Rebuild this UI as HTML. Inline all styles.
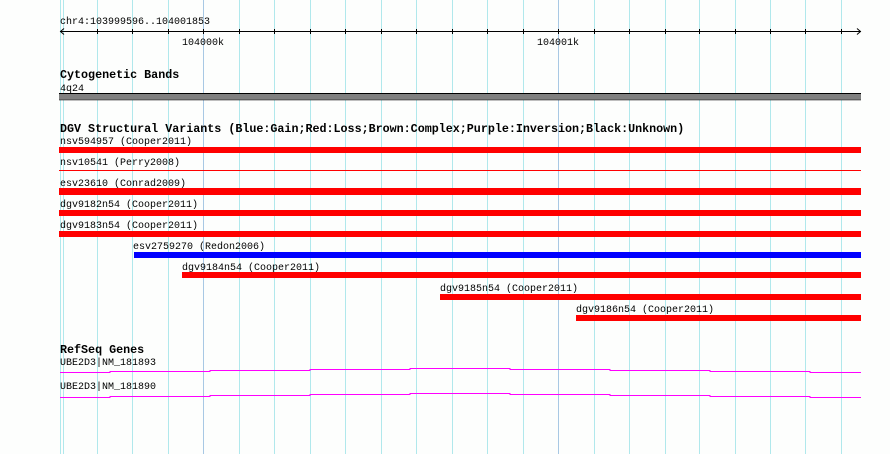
<!DOCTYPE html>
<html><head><meta charset="utf-8"><style>
html,body{margin:0;padding:0;background:#fff;width:890px;height:454px;overflow:hidden}
svg{display:block}
text{font-family:"Liberation Mono",monospace;font-size:10px;fill:#000}
.b{font-weight:bold;font-size:11.7px}
</style></head><body>
<svg width="890" height="454" viewBox="0 0 890 454" xmlns="http://www.w3.org/2000/svg">
<rect width="890" height="454" fill="#fdfefd"/>
<g stroke="#b0e8ec" stroke-width="1">
<line x1="60.5" y1="0" x2="60.5" y2="454"/>
<line x1="63.5" y1="0" x2="63.5" y2="454"/>
<line x1="97.5" y1="0" x2="97.5" y2="454"/>
<line x1="132.5" y1="0" x2="132.5" y2="454"/>
<line x1="168.5" y1="0" x2="168.5" y2="454"/>
<line x1="239.5" y1="0" x2="239.5" y2="454"/>
<line x1="274.5" y1="0" x2="274.5" y2="454"/>
<line x1="310.5" y1="0" x2="310.5" y2="454"/>
<line x1="345.5" y1="0" x2="345.5" y2="454"/>
<line x1="381.5" y1="0" x2="381.5" y2="454"/>
<line x1="416.5" y1="0" x2="416.5" y2="454"/>
<line x1="452.5" y1="0" x2="452.5" y2="454"/>
<line x1="487.5" y1="0" x2="487.5" y2="454"/>
<line x1="523.5" y1="0" x2="523.5" y2="454"/>
<line x1="594.5" y1="0" x2="594.5" y2="454"/>
<line x1="629.5" y1="0" x2="629.5" y2="454"/>
<line x1="665.5" y1="0" x2="665.5" y2="454"/>
<line x1="699.5" y1="0" x2="699.5" y2="454"/>
<line x1="735.5" y1="0" x2="735.5" y2="454"/>
<line x1="770.5" y1="0" x2="770.5" y2="454"/>
<line x1="805.5" y1="0" x2="805.5" y2="454"/>
<line x1="841.5" y1="0" x2="841.5" y2="454"/>
</g>
<g stroke="#a8c8e4" stroke-width="1">
<line x1="203.5" y1="0" x2="203.5" y2="454"/>
<line x1="558.5" y1="0" x2="558.5" y2="454"/>
</g>
<text x="60" y="24">chr4:103999596..104001853</text>
<line x1="60" y1="31.5" x2="861" y2="31.5" stroke="#000" stroke-width="1"/>
<polyline points="64,28.5 60.5,31.5 64,34.5" fill="none" stroke="#000"/>
<polyline points="857,28.5 860.5,31.5 857,34.5" fill="none" stroke="#000"/>
<g stroke="#000">
<line x1="97.5" y1="29" x2="97.5" y2="34"/><line x1="132.5" y1="29" x2="132.5" y2="34"/><line x1="168.5" y1="29" x2="168.5" y2="34"/><line x1="203.5" y1="29" x2="203.5" y2="34"/><line x1="239.5" y1="29" x2="239.5" y2="34"/><line x1="274.5" y1="29" x2="274.5" y2="34"/><line x1="310.5" y1="29" x2="310.5" y2="34"/><line x1="345.5" y1="29" x2="345.5" y2="34"/><line x1="381.5" y1="29" x2="381.5" y2="34"/><line x1="416.5" y1="29" x2="416.5" y2="34"/><line x1="452.5" y1="29" x2="452.5" y2="34"/><line x1="487.5" y1="29" x2="487.5" y2="34"/><line x1="523.5" y1="29" x2="523.5" y2="34"/><line x1="558.5" y1="29" x2="558.5" y2="34"/><line x1="594.5" y1="29" x2="594.5" y2="34"/><line x1="629.5" y1="29" x2="629.5" y2="34"/><line x1="665.5" y1="29" x2="665.5" y2="34"/><line x1="699.5" y1="29" x2="699.5" y2="34"/><line x1="735.5" y1="29" x2="735.5" y2="34"/><line x1="770.5" y1="29" x2="770.5" y2="34"/><line x1="805.5" y1="29" x2="805.5" y2="34"/><line x1="841.5" y1="29" x2="841.5" y2="34"/>
</g>
<text x="182" y="45">104000k</text>
<text x="537" y="45">104001k</text>

<text class="b" x="60" y="78">Cytogenetic Bands</text>
<text x="60" y="91">4q24</text>
<rect x="59" y="93" width="802" height="7" fill="#808080"/>
<line x1="59" y1="93.5" x2="861" y2="93.5" stroke="#000"/>
<line x1="59" y1="100" x2="861" y2="100" stroke="#000" stroke-width="0.6"/>

<text class="b" x="60" y="132">DGV Structural Variants (Blue:Gain;Red:Loss;Brown:Complex;Purple:Inversion;Black:Unknown)</text>
<text x="60" y="144">nsv594957 (Cooper2011)</text>
<rect x="59" y="147" width="802" height="6" fill="#ff0000"/>
<text x="60" y="165">nsv10541 (Perry2008)</text>
<rect x="59" y="170" width="802" height="1" fill="#ff0000"/>
<text x="60" y="186">esv23610 (Conrad2009)</text>
<rect x="59" y="188" width="802" height="7" fill="#ff0000"/>
<text x="60" y="207">dgv9182n54 (Cooper2011)</text>
<rect x="59" y="210" width="802" height="6" fill="#ff0000"/>
<text x="60" y="228">dgv9183n54 (Cooper2011)</text>
<rect x="59" y="231" width="802" height="6" fill="#ff0000"/>
<text x="133" y="249">esv2759270 (Redon2006)</text>
<rect x="134" y="252" width="727" height="6" fill="#0000ff"/>
<text x="182" y="270">dgv9184n54 (Cooper2011)</text>
<rect x="182" y="272" width="679" height="6" fill="#ff0000"/>
<text x="440" y="291">dgv9185n54 (Cooper2011)</text>
<rect x="440" y="294" width="421" height="6" fill="#ff0000"/>
<text x="576" y="312">dgv9186n54 (Cooper2011)</text>
<rect x="576" y="315" width="285" height="6" fill="#ff0000"/>

<text class="b" x="60" y="353">RefSeq Genes</text>
<text x="60" y="365">UBE2D3|NM_181893</text>
<g stroke="#ff00ff" stroke-width="1" fill="none">
<polyline points="60,372.5 110,372.5 110,371.5 210,371.5 210,370.5 310,370.5 310,369.5 410,369.5 410,368.5 510,368.5 510,369.5 610,369.5 610,370.5 710,370.5 710,371.5 810,371.5 810,372.5 861,372.5"/>
<polyline points="60,397.5 110,397.5 110,396.5 210,396.5 210,395.5 310,395.5 310,394.5 410,394.5 410,393.5 510,393.5 510,394.5 610,394.5 610,395.5 710,395.5 710,396.5 810,396.5 810,397.5 861,397.5"/>
</g>
<text x="60" y="389">UBE2D3|NM_181890</text>
</svg>
</body></html>
